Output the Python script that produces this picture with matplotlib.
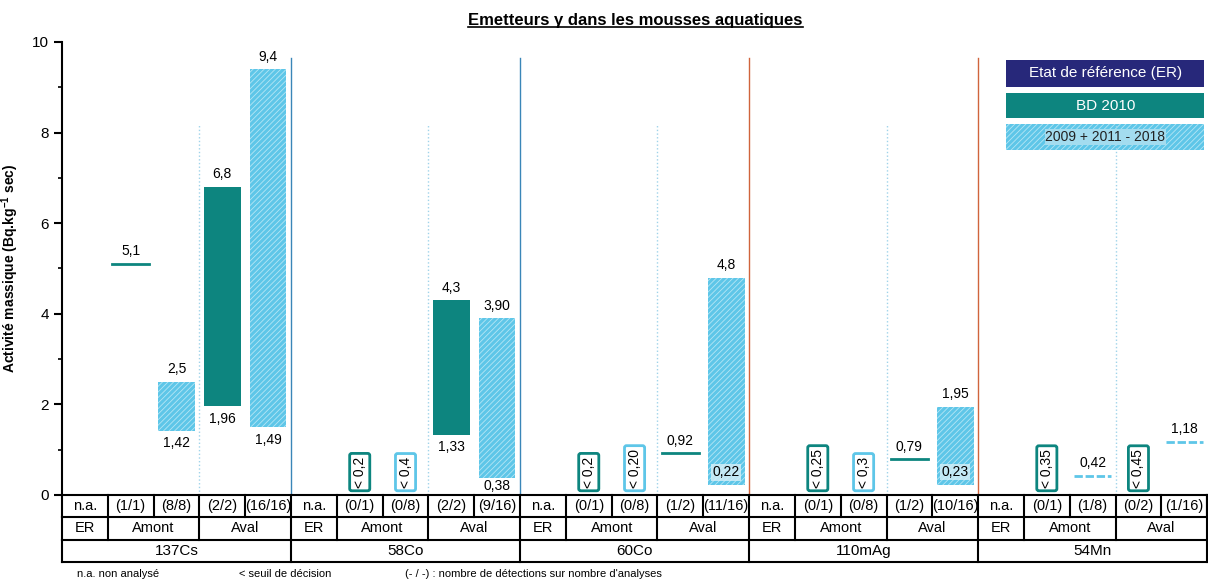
import matplotlib.pyplot as plt
import matplotlib.patches as mpatches
from matplotlib.ticker import MultipleLocator

plt.rcParams['font.family'] = ['Liberation Sans', 'DejaVu Sans']
plt.rcParams['hatch.linewidth'] = 0.6
plt.rcParams['mathtext.default'] = 'regular'

# couleurs
navy = '#27287a'
teal = '#0d857f'
ciel = '#5ec6e8'

# tableau sous le graphe
groupes = ['137Cs', '58Co', '60Co', '110mAg', '54Mn']
zones = ['ER', 'Amont', 'Aval']
detections = ['n.a.', '(1/1)', '(8/8)', '(2/2)', '(16/16)',
              'n.a.', '(0/1)', '(0/8)', '(2/2)', '(9/16)',
              'n.a.', '(0/1)', '(0/8)', '(1/2)', '(11/16)',
              'n.a.', '(0/1)', '(0/8)', '(1/2)', '(10/16)',
              'n.a.', '(0/1)', '(1/8)', '(0/2)', '(1/16)']

# BD 2010 : barres min-max
bd_cols = [3, 8]
bd_min = [1.96, 1.33]
bd_max = [6.8, 4.3]
bd_min_txt = ['1,96', '1,33']
bd_max_txt = ['6,8', '4,3']

# BD 2010 : valeur unique
bd_val_cols = [1, 13, 18]
bd_val = [5.1, 0.92, 0.79]
bd_val_txt = ['5,1', '0,92', '0,79']

# 2009 + 2011 - 2018 : barres min-max
hs_cols = [2, 4, 9, 14, 19]
hs_min = [1.42, 1.49, 0.38, 0.22, 0.23]
hs_max = [2.5, 9.4, 3.90, 4.8, 1.95]
hs_min_txt = ['1,42', '1,49', '0,38', '0,22', '0,23']
hs_max_txt = ['2,5', '9,4', '3,90', '4,8', '1,95']

# 2009 + 2011 - 2018 : valeur unique
hs_val_cols = [22, 24]
hs_val = [0.42, 1.18]
hs_val_txt = ['0,42', '1,18']

# seuils de décision
sd_bd_cols = [6, 11, 16, 21, 23]
sd_bd_txt = ['< 0,2', '< 0,2', '< 0,25', '< 0,35', '< 0,45']
sd_hs_cols = [7, 12, 17]
sd_hs_txt = ['< 0,4', '< 0,20', '< 0,3']

fig = plt.figure(figsize=(12.08, 5.83), dpi=100)
ax = fig.add_axes([0.0513, 0.151, 0.9480, 0.777])
tab = fig.add_axes([0.0513, 0.036, 0.9480, 0.115])

ax.set_xlim(0, 25)
ax.set_ylim(0, 10)
for s in ['top', 'right', 'bottom']:
    ax.spines[s].set_visible(False)
ax.spines['left'].set_linewidth(1.5)
ax.set_xticks([])
ax.yaxis.set_major_locator(MultipleLocator(2))
ax.yaxis.set_minor_locator(MultipleLocator(1))
ax.tick_params(axis='y', which='major', length=6, width=1.5, labelsize=11)
ax.tick_params(axis='y', which='minor', length=3, width=1.2)
ax.set_ylabel('Activité massique (Bq.kg$^{-1}$ sec)', fontsize=10, fontweight='bold', labelpad=8)

# titre souligné
titre = fig.text(0.526, 0.965, 'Emetteurs γ dans les mousses aquatiques', ha='center', va='center',
                 fontsize=12, fontweight='bold')
fig.canvas.draw()
bb = titre.get_window_extent().transformed(fig.transFigure.inverted())
fig.add_artist(plt.Line2D([bb.x0, bb.x1], [bb.y0 + 0.002, bb.y0 + 0.002], color='black', lw=1.2))

# séparateurs
for i, c in zip([5, 10, 15, 20], ['#3a86b8', '#3a86b8', '#d0643c', '#d0643c']):
    ax.plot([i, i], [0, 9.65], color=c, lw=1)
for i in [3, 8, 13, 18, 23]:
    ax.plot([i, i], [0, 8.2], color='#9fd3ea', lw=1, ls=':')

w = 0.8
off = dict(textcoords='offset points', ha='center', fontsize=10)

for c, lo, hi, tl, th in zip(bd_cols, bd_min, bd_max, bd_min_txt, bd_max_txt):
    ax.bar(c + 0.5, hi - lo, bottom=lo, width=w, color=teal)
    ax.annotate(th, (c + 0.5, hi), xytext=(0, 4), va='bottom', **off)
    ax.annotate(tl, (c + 0.5, lo), xytext=(0, -4), va='top', **off)

for c, lo, hi, tl, th in zip(hs_cols, hs_min, hs_max, hs_min_txt, hs_max_txt):
    ax.bar(c + 0.5, hi - lo, bottom=lo, width=w, color=ciel, edgecolor='#b5e6f5',
           hatch='//////', lw=0)
    ax.annotate(th, (c + 0.5, hi), xytext=(0, 4), va='bottom', **off)
    if lo < 0.3:
        ax.annotate(tl, (c + 0.5, lo), xytext=(0, 4), va='bottom',
                    bbox=dict(boxstyle='square,pad=0.1', fc='#d8f0f8', ec='none', alpha=0.8), **off)
    elif lo < 0.5:
        ax.annotate(tl, (c + 0.5, lo), xytext=(0, -1), va='top', **off)
    else:
        ax.annotate(tl, (c + 0.5, lo), xytext=(0, -4), va='top', **off)

for c, v, t in zip(bd_val_cols, bd_val, bd_val_txt):
    ax.plot([c + 0.1, c + 0.9], [v, v], color=teal, lw=2)
    ax.annotate(t, (c + 0.5, v), xytext=(0, 4), va='bottom', **off)

for c, v, t in zip(hs_val_cols, hs_val, hs_val_txt):
    ax.plot([c + 0.1, c + 0.9], [v, v], color=ciel, lw=2, ls=(0, (3, 1)))
    ax.annotate(t, (c + 0.5, v), xytext=(0, 4), va='bottom', **off)

for cols, txts, ec in [(sd_bd_cols, sd_bd_txt, teal), (sd_hs_cols, sd_hs_txt, ciel)]:
    for c, t in zip(cols, txts):
        ax.text(c + 0.5, 0.16, t, rotation=90, ha='center', va='bottom', fontsize=10,
                bbox=dict(boxstyle='round,pad=0.22,rounding_size=0.15', fc='white', ec=ec, lw=2))

# légende
leg = [(0.960, 0.901, navy, None, 'Etat de référence (ER)', 'white'),
       (0.887, 0.832, teal, None, 'BD 2010', 'white'),
       (0.819, 0.762, ciel, '//////', '2009 + 2011 - 2018', '#222222')]
for y1, y0, fc, h, lab, tc in leg:
    ax.add_patch(mpatches.Rectangle((0.8246, y0), 0.1728, y1 - y0, transform=ax.transAxes,
                                    facecolor=fc, edgecolor='#b5e6f5' if h else fc, hatch=h, lw=0,
                                    clip_on=False))
    kw = {}
    if h:
        kw['bbox'] = dict(boxstyle='square,pad=0.05', fc='#a3dcef', ec='none')
    ax.text(0.911, (y0 + y1) / 2, lab, transform=ax.transAxes, ha='center', va='center',
            fontsize=11 if not h else 10, color=tc, **kw)

# tableau
tab.set_xlim(0, 25)
tab.set_ylim(0, 3)
tab.axis('off')
lk = dict(color='black', lw=1.5, clip_on=False)
for y in [0, 1, 2, 3]:
    tab.plot([0, 25], [y, y], **lk)
for i in range(26):
    tab.plot([i, i], [2, 3], **lk)
for g in range(5):
    b = g * 5
    for i in [b, b + 1, b + 3]:
        tab.plot([i, i], [1, 2], **lk)
    tab.plot([b, b], [0, 1], **lk)
    tab.text(b + 2.5, 0.5, groupes[g], ha='center', va='center', fontsize=11)
    for (x0, x1), z in zip([(0, 1), (1, 3), (3, 5)], zones):
        tab.text(b + (x0 + x1) / 2, 1.5, z, ha='center', va='center', fontsize=10.5)
tab.plot([25, 25], [0, 3], **lk)
for i, d in enumerate(detections):
    tab.text(i + 0.5, 2.5, d, ha='center', va='center', fontsize=10.5)

# notes
fig.text(0.064, 0.01, 'n.a. non analysé', fontsize=8)
fig.text(0.198, 0.01, '< seuil de décision', fontsize=8)
fig.text(0.335, 0.01, "(- / -) : nombre de détections sur nombre d'analyses", fontsize=8)

fig.savefig('out.png', dpi=100)
